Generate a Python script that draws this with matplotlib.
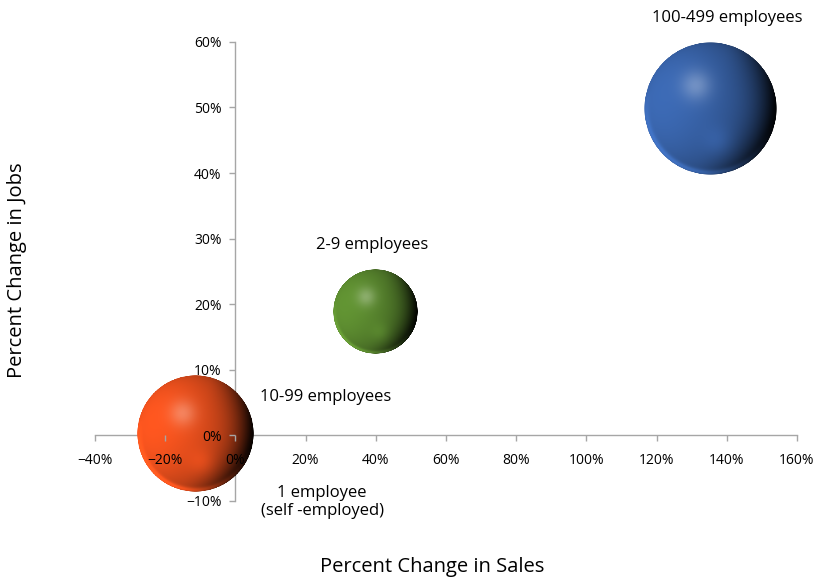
import numpy as np
import matplotlib
matplotlib.use("Agg")
import matplotlib.pyplot as plt
from matplotlib.offsetbox import OffsetImage, AnnotationBbox
from matplotlib.ticker import PercentFormatter

# --- Data (percent change) ---
groups = ["1 employee", "2-9 employees", "100-499 employees"]
sales_change = [-11.5, 40.0, 135.5]
jobs_change = [0.2, 18.8, 49.8]
bubble_size = [3364, 1806, 4422]          # relative bubble areas
bubble_colors = ["#f4531e", "#5e8e31", "#3a66ae"]

# text labels placed next to the bubbles (data coords)
label_text = ["100-499 employees", "2-9 employees", "10-99 employees",
              "1 employee\n(self -employed)"]
label_x = [140, 39, 25.8, 24.7]
label_y = [63.7, 29, 5.8, -10.2]

x_ticks = list(range(-40, 161, 20))
y_ticks = list(range(-10, 61, 10))

FONT = "Open Sans"
plt.rcParams["font.family"] = [FONT, "DejaVu Sans"]


def sphere_image(hex_color, n=300):
    """Shaded sphere as an RGBA array, light mostly from the left."""
    base = np.array(matplotlib.colors.to_rgb(hex_color))
    u = np.linspace(-1, 1, n)
    X, Y = np.meshgrid(u, -u)
    r2 = X**2 + Y**2
    rr = np.sqrt(r2)
    Z = np.sqrt(np.clip(1 - r2, 0, 1))
    L = np.array([-0.72, 0.2, 0.66])
    L = L / np.linalg.norm(L)
    dot = X * L[0] + Y * L[1] + Z * L[2]
    half = np.clip(0.5 + 0.5 * dot, 0, 1)
    shade = 1.05 * half**0.7
    # dark band on the right / lower right edge
    edge = np.clip((X + 0.25 * -Y) / 0.95, 0, 1) ** 1.6 * rr**2.5
    shade = shade * (1 - 0.92 * np.clip(edge, 0, 1))
    rgb = base[None, None, :] * shade[..., None]
    # soft highlight
    hx, hy = -0.22, 0.35
    spec = np.exp(-((X - hx)**2 + (Y - hy)**2) / 0.05)
    rgb = rgb + 0.28 * spec[..., None] * (1 - rgb)
    # faint reflected light low right and bottom rim
    refl = np.exp(-((X - 0.12)**2 + (Y + 0.5)**2) / 0.05)
    rgb = rgb + 0.12 * refl[..., None] * base[None, None, :]
    rim = np.exp(-((rr - 0.97) ** 2) / 0.002) * np.clip(-Y - X * 0.3, 0, 1)
    rgb = rgb + 0.3 * rim[..., None] * base[None, None, :]
    rgb = np.clip(rgb, 0, 1)
    alpha = np.clip((1 - rr) * n / 2, 0, 1)
    return np.dstack([rgb, alpha])


fig = plt.figure(figsize=(8.16, 5.8), dpi=100)
ax = fig.add_axes([0.1164, 0.137, 0.8603, 0.7906])

ax.set_xlim(-40, 160)
ax.set_ylim(-10, 60)
ax.set_xticks(x_ticks)
ax.set_yticks(y_ticks)
ax.xaxis.set_major_formatter(PercentFormatter(decimals=0))
ax.yaxis.set_major_formatter(PercentFormatter(decimals=0))

for side in ["top", "right"]:
    ax.spines[side].set_visible(False)
ax.spines["left"].set_position(("data", 0))
ax.spines["bottom"].set_position(("data", 0))
for side in ["left", "bottom"]:
    ax.spines[side].set_color("#a6a6a6")
    ax.spines[side].set_linewidth(1.0)
    ax.spines[side].set_zorder(1)

ax.tick_params(axis="both", colors="#a6a6a6", length=4, width=1,
               labelcolor="black", labelsize=10)
ax.tick_params(axis="x", pad=9)
ax.tick_params(axis="y", pad=6)
ax.xaxis.set_zorder(4)
ax.yaxis.set_zorder(4)

# bubbles: pixel radius scales with sqrt of bubble size
r_max = 66.5
n_img = 300
for x, y, s, c in zip(sales_change, jobs_change, bubble_size, bubble_colors):
    r_px = r_max * np.sqrt(s / max(bubble_size))
    img = OffsetImage(sphere_image(c, n_img), zoom=2 * r_px / n_img,
                      dpi_cor=False)
    ab = AnnotationBbox(img, (x, y), frameon=False, pad=0, zorder=2)
    ax.add_artist(ab)

for t, x, y in zip(label_text, label_x, label_y):
    ax.text(x, y, t, fontsize=12, ha="center", va="center",
            linespacing=1.15, zorder=5)

fig.text(0.53, 0.022, "Percent Change in Sales", fontsize=14.5,
         ha="center", va="center")
fig.text(0.021, 0.535, "Percent Change in Jobs", fontsize=14.5,
         ha="center", va="center", rotation=90)

fig.savefig("out.png", dpi=100)
